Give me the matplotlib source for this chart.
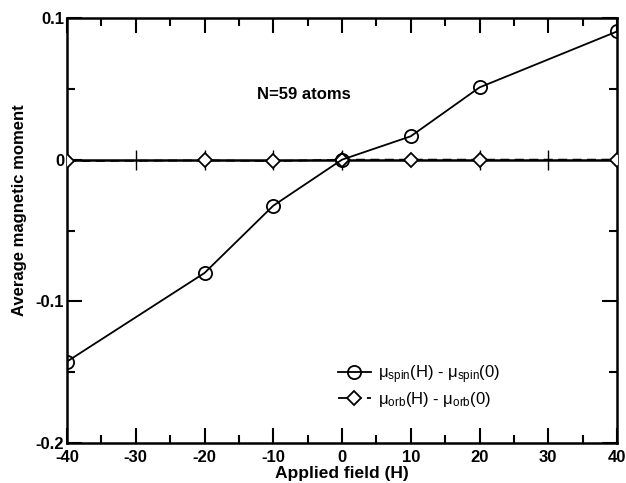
import matplotlib
matplotlib.use("Agg")
import matplotlib.pyplot as plt
from matplotlib.ticker import MultipleLocator

plt.rcParams['font.family'] = ['Liberation Sans', 'DejaVu Sans']
plt.rcParams['mathtext.fontset'] = 'custom'
plt.rcParams['mathtext.rm'] = 'Liberation Sans'
plt.rcParams['mathtext.it'] = 'Liberation Sans'

field = [-40, -20, -10, 0, 10, 20, 40]
spin = [-0.1425, -0.080, -0.0325, 0.0, 0.0165, 0.051, 0.0905]
orb = [-0.001, -0.0005, -0.001, 0.0, 0.0, 0.0, 0.0]
zero_ticks = [-30, -20, -10, 0, 20, 30]
xticks = [-40, -30, -20, -10, 0, 10, 20, 30, 40]
yticks = [-0.2, -0.1, 0, 0.1]
ytick_labels = ['-0.2', '-0.1', '0', '0.1']

fig = plt.figure(figsize=(6.26, 4.83), dpi=100)
ax = fig.add_axes([67/626, 40/483, 550/626, 425/483])

ax.axhline(0, color='black', lw=1.8, zorder=1)
ax.plot(zero_ticks, [0]*len(zero_ticks), linestyle='none', marker='|',
        markersize=14, mew=1.0, color='black', zorder=1)

ax.plot(field, orb, color='black', lw=1.3, ls=(0, (5, 3)), marker='D',
        markersize=7, mfc='white', mec='black', mew=1.3, zorder=3,
        label=r'$\mathregular{\mu_{orb}}$(H) - $\mathregular{\mu_{orb}}$(0)')
ax.plot(field, spin, color='black', lw=1.3, marker='o', markersize=9.5,
        mfc='none', mec='black', mew=1.3, zorder=4,
        label=r'$\mathregular{\mu_{spin}}$(H) - $\mathregular{\mu_{spin}}$(0)')

ax.set_xlim(-40, 40)
ax.set_ylim(-0.2, 0.1)
ax.set_xticks(xticks)
ax.set_xticklabels([str(v) for v in xticks])
ax.xaxis.set_minor_locator(MultipleLocator(5))
ax.set_yticks(yticks)
ax.set_yticklabels(ytick_labels)
ax.yaxis.set_minor_locator(MultipleLocator(0.05))

ax.tick_params(which='both', direction='in', top=True, right=True,
               labelsize=12, width=1.5)
ax.tick_params(axis='x', pad=5)
ax.tick_params(axis='y', pad=2)
ax.tick_params(which='major', length=11)
ax.tick_params(which='minor', length=6)
for lab in ax.get_xticklabels() + ax.get_yticklabels():
    lab.set_fontweight('bold')
for s in ax.spines.values():
    s.set_linewidth(1.8)

ax.set_xlabel('Applied field (H)', fontsize=12.5, fontweight='bold', labelpad=1)
ax.set_ylabel('Average magnetic moment', fontsize=12, fontweight='bold')
ax.yaxis.set_label_coords(-0.072, 0.548)

ax.text(-12.4, 0.046, 'N=59 atoms', fontsize=12, fontweight='bold',
        va='center', ha='left')

h, l = ax.get_legend_handles_labels()
ax.legend(h[::-1], l[::-1], loc='lower left', bbox_to_anchor=(0.48, 0.065),
          frameon=False, fontsize=12, handlelength=2.0, handletextpad=0.4,
          labelspacing=0.25, borderaxespad=0)

fig.savefig('out.png', dpi=100)
